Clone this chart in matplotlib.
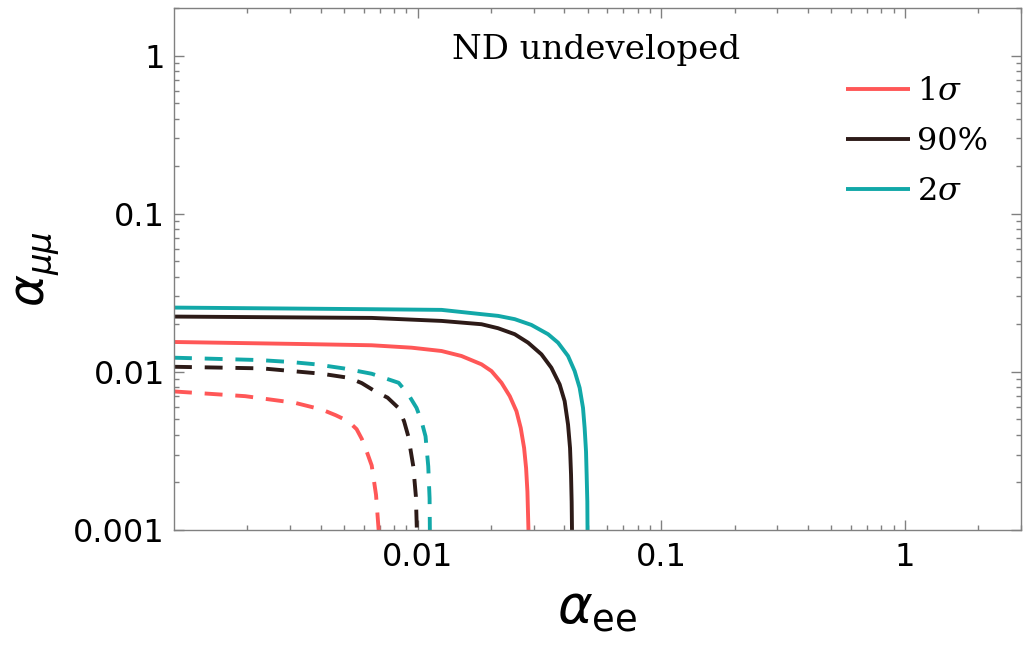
import matplotlib
matplotlib.use("Agg")
import matplotlib.pyplot as plt
from matplotlib.ticker import LogLocator, NullFormatter, FixedLocator, FixedFormatter

# ---- data (alpha_ee, alpha_mumu) ----
red_solid_x = [0.0010, 0.00335, 0.00648, 0.00945, 0.01254, 0.01514, 0.0183, 0.0201, 0.0221, 0.0239, 0.02546,
               0.02651, 0.02737, 0.02789, 0.02824, 0.02852]
red_solid_y = [0.01545, 0.0150, 0.01473, 0.01422, 0.01355, 0.0126, 0.01116, 0.01012, 0.00853, 0.00702, 0.00564,
               0.00442, 0.0033, 0.00246, 0.00175, 0.0010]

dark_solid_x = [0.0010, 0.00648, 0.01254, 0.0183, 0.0214, 0.02505, 0.02842, 0.03224, 0.03541, 0.0383, 0.04015,
                0.04146, 0.04225, 0.04265, 0.0429, 0.04304]
dark_solid_y = [0.02237, 0.02194, 0.0210, 0.02001, 0.01888, 0.0173, 0.0153, 0.01291, 0.01062, 0.00833, 0.00653,
                0.00464, 0.0033, 0.00224, 0.00151, 0.0010]

teal_solid_x = [0.0010, 0.00648, 0.01254, 0.0183, 0.0214, 0.02505, 0.02932, 0.03434, 0.03772, 0.04146, 0.04413,
                0.04626, 0.04776, 0.0485, 0.04914, 0.04943, 0.04975, 0.04984]
teal_solid_y = [0.0255, 0.0249, 0.02466, 0.02317, 0.0226, 0.02154, 0.01981, 0.0173, 0.0153, 0.0126, 0.01012,
                0.00793, 0.00592, 0.00442, 0.00314, 0.00224, 0.00151, 0.0010]

red_dash_x = [0.0010, 0.00196, 0.00314, 0.00404, 0.00461, 0.0052, 0.00562, 0.0059, 0.00618, 0.00648, 0.00675, 0.00692]
red_dash_y = [0.00752, 0.00702, 0.00637, 0.00578, 0.00532, 0.00487, 0.00434, 0.00377, 0.00314, 0.00256, 0.00167, 0.0010]

dark_dash_x = [0.0010, 0.0023, 0.00404, 0.00522, 0.0059, 0.00668, 0.00753, 0.00834, 0.0088, 0.00916, 0.0096, 0.00984, 0.00993]
dark_dash_y = [0.01077, 0.01052, 0.00973, 0.00917, 0.00849, 0.00755, 0.00687, 0.00592, 0.00487, 0.00391, 0.00253, 0.00163, 0.0010]

teal_dash_x = [0.0010, 0.00223, 0.00302, 0.00382, 0.00497, 0.00648, 0.00836, 0.00916, 0.0099, 0.01038, 0.01078, 0.01106, 0.0112, 0.01123]
teal_dash_y = [0.01229, 0.01188, 0.01154, 0.01116, 0.01052, 0.00973, 0.00853, 0.0072, 0.00592, 0.00487, 0.00391, 0.00253, 0.00159, 0.0010]

legend_labels = [r"$1\sigma$", "90%", r"$2\sigma$"]
title_text = "ND undeveloped"
xtick_vals = [0.01, 0.1, 1]
xtick_labels = ["0.01", "0.1", "1"]
ytick_vals = [0.001, 0.01, 0.1, 1]
ytick_labels = ["0.001", "0.01", "0.1", "1"]

RED = "#ff5757"
DARK = "#2d1b18"
TEAL = "#12a8a8"
GRAY = "#808080"

fig = plt.figure(figsize=(10.3, 6.45), dpi=100)
ax = fig.add_axes([174/1030, 1 - 530/645, (1021-174)/1030, (530-8)/645])
ax.set_xscale("log")
ax.set_yscale("log")
ax.set_xlim(0.001, 3)
ax.set_ylim(0.001, 2)

lw = 2.8
dash = (0, (4.6, 3.3))
kw = dict(lw=lw, solid_joinstyle="round", solid_capstyle="butt")
l1, = ax.plot(red_solid_x, red_solid_y, color=RED, **kw)
l2, = ax.plot(dark_solid_x, dark_solid_y, color=DARK, **kw)
l3, = ax.plot(teal_solid_x, teal_solid_y, color=TEAL, **kw)
ax.plot(red_dash_x, red_dash_y, color=RED, lw=lw, ls=dash)
ax.plot(dark_dash_x, dark_dash_y, color=DARK, lw=lw, ls=dash)
ax.plot(teal_dash_x, teal_dash_y, color=TEAL, lw=lw, ls=dash)

for s in ax.spines.values():
    s.set_color(GRAY)
    s.set_linewidth(1.0)

ax.xaxis.set_major_locator(FixedLocator(xtick_vals))
ax.xaxis.set_major_formatter(FixedFormatter(xtick_labels))
ax.yaxis.set_major_locator(FixedLocator(ytick_vals))
ax.yaxis.set_major_formatter(FixedFormatter(ytick_labels))
ax.xaxis.set_minor_locator(LogLocator(base=10, subs=range(2, 10), numticks=20))
ax.yaxis.set_minor_locator(LogLocator(base=10, subs=range(2, 10), numticks=20))
ax.xaxis.set_minor_formatter(NullFormatter())
ax.yaxis.set_minor_formatter(NullFormatter())
ax.tick_params(which="both", direction="in", top=True, right=True, color=GRAY, width=1.0)
ax.tick_params(which="major", length=7.5)
ax.tick_params(which="minor", length=3.8)
ax.tick_params(axis="x", which="major", pad=9, labelsize=23)
ax.tick_params(axis="y", which="major", pad=6.5, labelsize=23)
for lab in ax.get_xticklabels() + ax.get_yticklabels():
    lab.set_fontfamily("DejaVu Sans")

xl = ax.set_xlabel(r"$\alpha_{\mathrm{ee}}$", fontsize=38, labelpad=6)
yl = ax.set_ylabel(r"$\alpha_{\mu\mu}$", fontsize=35, labelpad=8)
xl.set_math_fontfamily("dejavusans")
yl.set_math_fontfamily("dejavusans")

fig.text(596/1030, 1 - 59/645, title_text, ha="center", va="baseline",
         fontsize=24.5, family="DejaVu Serif")

leg = ax.legend([l1, l2, l3], legend_labels, loc="upper left", bbox_to_anchor=(846/1030, 1 - 76/645),
                bbox_transform=fig.transFigure, frameon=False, fontsize=23, handlelength=2.0,
                handletextpad=0.22, labelspacing=0.6, borderpad=0, borderaxespad=0)
for t in leg.get_texts():
    t.set_fontfamily("DejaVu Serif")
    t.set_math_fontfamily("dejavuserif")

fig.savefig("out.png", dpi=100)
